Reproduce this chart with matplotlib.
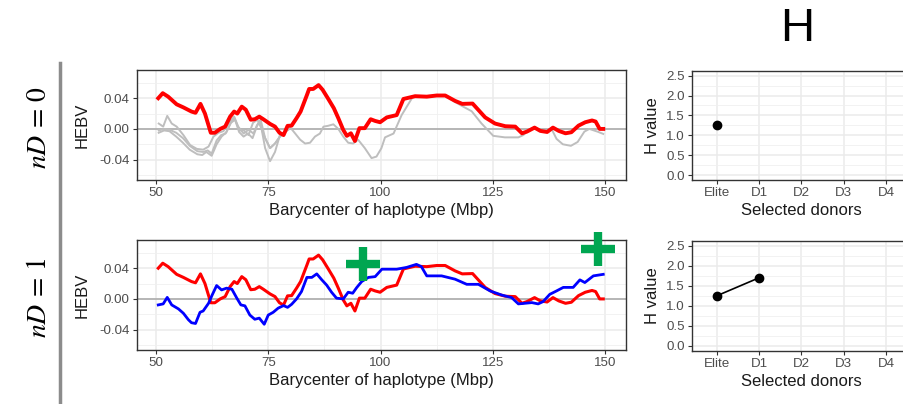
import numpy as np
import matplotlib
matplotlib.use('Agg')
import matplotlib.pyplot as plt
from matplotlib.ticker import MultipleLocator, FixedLocator, FormatStrFormatter

plt.rcParams['font.family'] = ['Liberation Sans', 'DejaVu Sans']
plt.rcParams['mathtext.fontset'] = 'stix'
plt.rcParams['axes.unicode_minus'] = False

# --- HEBV along the chromosome (Mbp) ---
red_x = [50.5, 51.5, 52.7, 54.6, 56.1, 57.9, 58.8, 59.9, 60.9, 62.2, 63.1, 64.3, 65.4, 66.5, 67.4,
         68.1, 69.1, 70.0, 71.1, 72.0, 73.0, 73.9, 75.4, 76.5, 77.5, 78.4, 79.3, 80.2, 81.3, 82.2,
         83.6, 84.1, 85.0, 86.2, 87.1, 88.4, 89.6, 90.6, 91.7, 92.5, 93.4, 94.3, 95.3, 96.5, 97.8,
         98.8, 99.9, 101.4, 103.6, 105.1, 107.7, 110.3, 112.5, 114.4, 116.6, 118.2, 120.5, 123.3,
         125.5, 127.8, 130.0, 131.5, 132.6, 134.3, 135.6, 137.1, 138.4, 139.7, 141.2, 142.5, 144.1,
         145.6, 147.1, 147.9, 148.8, 149.6]
red_y = [0.040, 0.0465, 0.042, 0.032, 0.028, 0.0226, 0.021, 0.0326, 0.020, -0.005, -0.005, 0.000,
         0.003, 0.016, 0.0226, 0.020, 0.029, 0.025, 0.012, 0.0126, 0.016, 0.0126, 0.0065, 0.003,
         -0.005, -0.008, 0.004, 0.0043, 0.014, 0.0226, 0.044, 0.052, 0.052, 0.057, 0.051, 0.0387,
         0.027, 0.014, -0.0013, -0.009, -0.0057, -0.0157, 0.001, 0.001, 0.0126, 0.0104, 0.0087,
         0.015, 0.018, 0.039, 0.0426, 0.042, 0.0435, 0.0435, 0.0365, 0.0326, 0.033, 0.015, 0.007,
         0.0035, 0.003, -0.0057, -0.0035, 0.0017, -0.0026, -0.004, 0.0017, -0.0026, -0.0057,
         -0.0043, 0.0043, 0.0087, 0.011, 0.0096, 0.0, 0.0]

blue_x = [50.5, 51.6, 52.5, 53.5, 55.0, 56.1, 57.2, 57.9, 58.8, 59.8, 60.5, 61.7, 62.5, 63.5, 64.6,
          65.7, 66.9, 68.0, 68.9, 69.8, 70.9, 72.0, 73.0, 74.1, 75.0, 76.1, 77.2, 78.4, 79.3, 80.2,
          81.3, 82.4, 83.6, 84.7, 85.8, 86.9, 88.0, 89.1, 90.2, 91.7, 92.8, 93.8, 94.7, 95.8, 97.3,
          98.8, 100.3, 103.6, 105.8, 108.0, 109.1, 110.3, 113.6, 116.6, 119.2, 121.8, 124.4, 127.0,
          129.2, 130.7, 133.7, 135.1, 136.2, 137.7, 139.2, 140.7, 142.9, 144.4, 145.5, 147.4, 149.6]
blue_y = [-0.0078, -0.0065, 0.002, -0.0078, -0.013, -0.0187, -0.027, -0.031, -0.032, -0.0174,
          -0.0157, -0.0057, 0.005, 0.0174, 0.0117, 0.014, 0.0126, 0.001, -0.0078, -0.009, -0.021,
          -0.0265, -0.025, -0.033, -0.021, -0.0174, -0.012, -0.0087, -0.011, -0.007, 0.0, 0.0096,
          0.028, 0.028, 0.0326, 0.025, 0.018, 0.0087, 0.001, 0.0, 0.0087, 0.0074, 0.0148, 0.0226,
          0.028, 0.029, 0.0387, 0.0387, 0.041, 0.045, 0.042, 0.030, 0.030, 0.0257, 0.019, 0.019,
          0.0104, 0.005, 0.0017, -0.0065, -0.0048, -0.0065, -0.0035, 0.006, 0.0104, 0.015, 0.015,
          0.0248, 0.0213, 0.030, 0.032]

# other elite haplotypes (grey)
g1_x = [50.6, 51.6, 52.5, 53.5, 54.6, 56.1, 57.6, 59.1, 60.5, 61.7, 62.8, 63.9, 65.0, 66.5, 67.4,
        68.3, 69.5, 70.6, 71.7, 72.5, 73.3, 74.3, 75.4, 76.5, 77.6, 78.8, 79.9, 80.3, 81.0, 82.1,
        83.2, 84.3, 85.4, 86.5, 87.3, 88.3, 89.5, 90.6, 91.7, 92.8, 93.9, 95.0, 96.5, 98.0, 99.1,
        100.2, 101.0, 102.9, 104.7, 107.0, 107.7, 110.3, 112.5, 114.4, 116.6, 118.1, 120.3, 122.5,
        125.1, 127.7, 130.7, 131.8, 132.6, 134.3, 135.6, 137.1, 138.0, 139.2, 140.6, 142.4, 143.9,
        145.4, 146.5, 148.3, 149.6]
g1_y = [0.007, 0.003, 0.017, 0.007, 0.003, -0.008, -0.021, -0.026, -0.027, -0.023, -0.010, -0.005,
        -0.003, 0.010, 0.016, 0.003, -0.006, -0.001, -0.006, 0.005, 0.012, -0.012, -0.025, -0.019,
        -0.010, -0.0035, 0.001, -0.001, -0.006, -0.014, -0.019, -0.018, -0.010, -0.006, 0.003,
        0.004, 0.006, 0.000, -0.010, -0.018, -0.019, -0.014, -0.025, -0.038, -0.036, -0.025,
        -0.011, -0.006, 0.018, 0.040, 0.043, 0.042, 0.0435, 0.0435, 0.035, 0.030, 0.023, 0.007,
        -0.009, -0.011, -0.011, -0.008, -0.0035, 0.0017, -0.0026, -0.004, 0.001, -0.013, -0.020,
        -0.022, -0.017, -0.0035, 0.0, -0.0035, -0.0065]
g2_x = [50.6, 51.8, 53.0, 54.5, 56.0, 57.5, 59.2, 60.3, 61.2, 62.4, 63.5, 64.6, 65.7, 66.6, 67.5,
        68.5, 69.5, 70.5, 71.5, 72.5, 73.2, 74.3, 75.4, 76.5, 77.6, 78.8, 79.9]
g2_y = [-0.005, -0.002, -0.003, -0.010, -0.018, -0.027, -0.033, -0.034, -0.030, -0.035, -0.020,
        -0.010, -0.004, 0.008, 0.014, -0.004, -0.010, -0.006, -0.012, 0.004, 0.010, -0.025, -0.042,
        -0.030, -0.008, -0.0035, 0.001]
g3_x = [50.6, 51.8, 53.0, 54.5, 56.0, 57.5, 59.2, 60.5, 61.5, 62.4, 63.5, 64.5, 65.5, 66.7, 67.6,
        68.6, 69.6, 70.6, 71.6, 72.6, 73.5, 74.3, 75.4, 76.5, 77.6, 78.8, 79.9]
g3_y = [-0.002, 0.000, -0.001, -0.005, -0.012, -0.022, -0.029, -0.030, -0.028, -0.032, -0.015,
        -0.008, -0.006, 0.008, 0.012, -0.002, -0.002, -0.008, 0.008, 0.012, 0.000, -0.012, -0.025,
        -0.019, -0.010, -0.0035, 0.001]

# donor regions flagged with a green cross
plus_x = [96.2, 148.4]
plus_y = [0.045, 0.065]

# --- H value per selected donor ---
donors = ['Elite', 'D1', 'D2', 'D3', 'D4']
h_nd0 = [1.25]
h_nd1 = [1.25, 1.70]

W, H = 904, 404
fig = plt.figure(figsize=(W / 100, H / 100), dpi=100)


def px_axes(x0, y0, x1, y1):
    return fig.add_axes([x0 / W, 1 - y1 / H, (x1 - x0) / W, (y1 - y0) / H])


def style_bw(ax):
    ax.set_facecolor('white')
    ax.grid(which='major', color='#EBEBEB', lw=1.1)
    ax.grid(which='minor', color='#F0F0F0', lw=0.6)
    ax.set_axisbelow(True)
    for s in ax.spines.values():
        s.set_color('#333333')
        s.set_linewidth(1.0)
    ax.tick_params(which='major', length=3, width=0.8, color='#333333',
                   labelcolor='#4D4D4D', labelsize=9.6, pad=2)
    ax.tick_params(which='minor', length=0)


def hebv_panel(ax):
    style_bw(ax)
    ax.set_xlim(45.7, 154.6)
    ax.set_ylim(-0.0665, 0.0767)
    ax.axhline(0, color='#A6A6A6', lw=1.1, zorder=1)
    ax.xaxis.set_major_locator(MultipleLocator(25))
    ax.xaxis.set_minor_locator(FixedLocator([62.5, 87.5, 112.5, 137.5]))
    ax.yaxis.set_major_locator(FixedLocator([-0.04, 0.0, 0.04]))
    ax.yaxis.set_minor_locator(FixedLocator([-0.06, -0.02, 0.02, 0.06]))
    ax.yaxis.set_major_formatter(FormatStrFormatter('%.2f'))
    ax.set_xlabel('Barycenter of haplotype (Mbp)', fontsize=12, color='#1A1A1A', labelpad=3)
    ax.set_ylabel('HEBV', fontsize=12, color='#1A1A1A', labelpad=7)


def h_panel(ax, vals):
    style_bw(ax)
    pos = np.arange(1, len(donors) + 1)
    ax.set_xlim(0.4, len(donors) + 0.6)
    ax.set_ylim(-0.125, 2.625)
    ax.set_xticks(pos)
    ax.set_xticklabels(donors)
    ax.yaxis.set_major_locator(FixedLocator([0.0, 0.5, 1.0, 1.5, 2.0, 2.5]))
    ax.yaxis.set_minor_locator(FixedLocator([0.25, 0.75, 1.25, 1.75, 2.25]))
    ax.yaxis.set_major_formatter(FormatStrFormatter('%.1f'))
    ax.plot(pos[:len(vals)], vals, color='black', lw=1.2, marker='o', ms=6, zorder=3)
    ax.set_xlabel('Selected donors', fontsize=12, color='#1A1A1A', labelpad=3)
    ax.set_ylabel('H value', fontsize=12, color='#1A1A1A', labelpad=4)


# nD = 0
ax1 = px_axes(136.7, 70, 625.7, 180)
hebv_panel(ax1)
for gx, gy in [(g1_x, g1_y), (g2_x, g2_y), (g3_x, g3_y)]:
    ax1.plot(gx, gy, color='#BEBEBE', lw=1.4, zorder=2)
ax1.plot(red_x, red_y, color='#FF0000', lw=2.8, zorder=3)

# nD = 1
ax2 = px_axes(136.7, 240, 625.7, 350)
hebv_panel(ax2)
ax2.plot(red_x, red_y, color='#FF0000', lw=2.2, zorder=3)
ax2.plot(blue_x, blue_y, color='#0000FF', lw=2.0, zorder=4)
ax2.plot(plus_x, plus_y, ls='none', marker='+', ms=24, mew=6, color='#00A651',
         clip_on=False, zorder=5)

ax3 = px_axes(691.7, 70.7, 911.3, 180)
h_panel(ax3, h_nd0)
ax4 = px_axes(691.7, 240.7, 911.3, 350.7)
h_panel(ax4, h_nd1)

fig.text(797 / W, 1 - 40.7 / H, 'H', fontsize=34, ha='center', va='baseline')

fig.text(39 / W, 1 - 128 / H, r'$nD\,=\,0$', fontsize=20, rotation=90, ha='center', va='center')
fig.text(39 / W, 1 - 298 / H, r'$nD\,=\,1$', fontsize=20, rotation=90, ha='center', va='center')
fig.add_artist(plt.Line2D([60 / W, 60 / W], [0, 1 - 63 / H], color='#8C8C8C', lw=2.5))

fig.savefig('out.png', dpi=100)
